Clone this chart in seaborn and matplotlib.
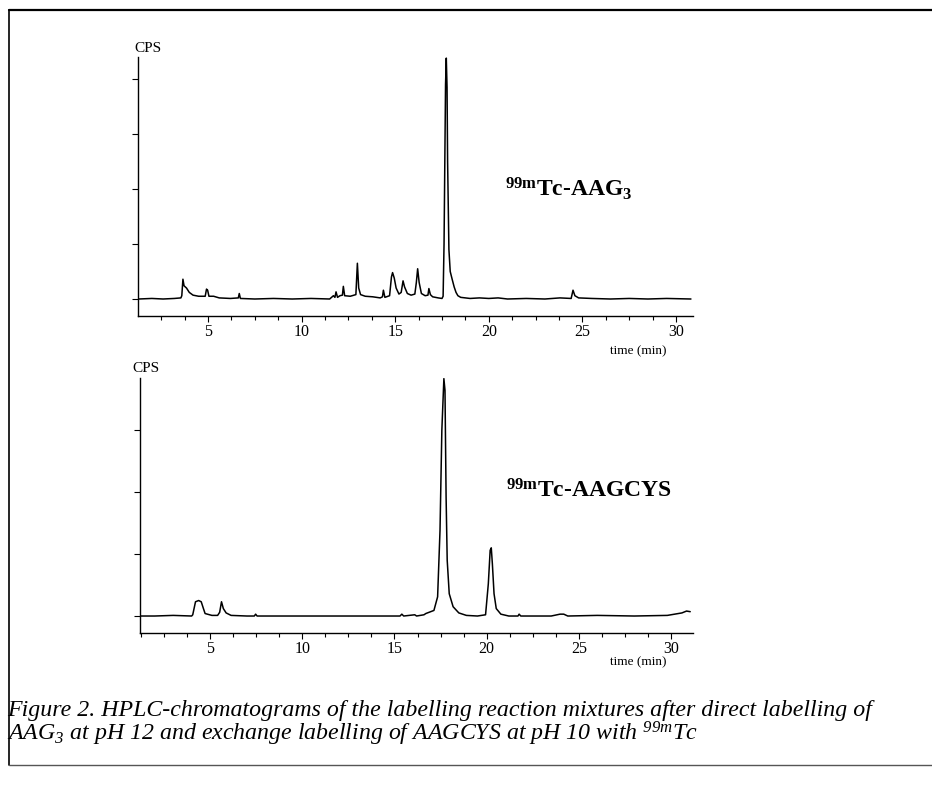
import matplotlib
matplotlib.use("Agg")
import matplotlib.pyplot as plt
from matplotlib.ticker import MultipleLocator, NullFormatter
from matplotlib.lines import Line2D
import seaborn as sns
import pandas as pd

# ---------------- data ----------------
# Upper chromatogram: 99mTc-AAG3 (time in min, CPS in relative units)
top_time = [1.3, 2.0, 2.6, 3.2, 3.55, 3.60, 3.66, 3.72, 3.85, 4.0, 4.2, 4.5, 4.85, 4.92, 4.98,
            5.05, 5.3, 5.6, 6.2, 6.62, 6.67, 6.73, 7.5, 8.5, 9.5, 10.5, 11.5, 11.7, 11.78, 11.84,
            11.92, 12.05, 12.18, 12.23, 12.3, 12.6, 12.9, 12.98, 13.05, 13.15, 13.4, 13.8, 14.2,
            14.32, 14.37, 14.45, 14.7, 14.8, 14.86, 14.95, 15.05, 15.2, 15.32, 15.42, 15.5, 15.65,
            15.85, 16.05, 16.13, 16.2, 16.28, 16.4, 16.6, 16.75, 16.8, 16.88, 17.0, 17.3, 17.5,
            17.56, 17.61, 17.69, 17.73, 17.77, 17.8, 17.87, 17.94, 18.05, 18.15, 18.25, 18.35,
            18.5, 19.0, 19.5, 20.0, 20.5, 21.0, 22.0, 23.0, 23.8, 24.4, 24.5, 24.6, 24.8, 25.5,
            26.5, 27.5, 28.5, 29.5, 30.8]
top_cps = [0.00, 0.01, 0.00, 0.01, 0.02, 0.06, 0.36, 0.24, 0.20, 0.12, 0.07, 0.05, 0.05, 0.18, 0.16,
           0.05, 0.05, 0.02, 0.01, 0.02, 0.10, 0.01, 0.00, 0.01, 0.00, 0.01, 0.00, 0.06, 0.03, 0.13,
           0.03, 0.06, 0.07, 0.23, 0.06, 0.05, 0.08, 0.65, 0.20, 0.08, 0.05, 0.04, 0.02,
           0.04, 0.16, 0.03, 0.06, 0.40, 0.48, 0.38, 0.20, 0.09, 0.12, 0.33, 0.22, 0.10,
           0.07, 0.09, 0.30, 0.55, 0.30, 0.10, 0.06, 0.07, 0.19, 0.08, 0.04, 0.02, 0.01,
           0.05, 1.00, 3.90, 4.38, 3.85, 2.50, 0.90, 0.50, 0.35, 0.22, 0.12, 0.06,
           0.03, 0.01, 0.02, 0.01, 0.02, 0.00, 0.01, 0.00, 0.02, 0.01, 0.16, 0.06, 0.02, 0.01,
           0.00, 0.01, 0.00, 0.01, 0.00]

# Lower chromatogram: 99mTc-AAGCYS
bot_time = [1.2, 2.0, 3.0, 4.0, 4.06, 4.21, 4.38, 4.52, 4.64, 4.73, 5.1, 5.41, 5.52, 5.62, 5.72,
            5.87, 6.14, 7.0, 7.4, 7.47, 7.55, 8.0, 10.0, 12.0, 14.0, 15.3, 15.4, 15.5, 16.1, 16.2,
            16.6, 16.7, 17.14, 17.34, 17.47, 17.57, 17.68, 17.74, 17.80, 17.86, 17.97, 18.18,
            18.49, 18.9, 19.5, 19.94, 20.09, 20.19, 20.25, 20.31, 20.40, 20.52, 20.77, 21.2,
            21.7, 21.76, 21.85, 22.0, 23.5, 23.98, 24.18, 24.4, 26.0, 28.0, 29.8, 30.59, 30.84,
            31.04]
bot_cps = [0.00, 0.00, 0.01, 0.00, 0.02, 0.23, 0.25, 0.23, 0.12, 0.04, 0.01, 0.01, 0.06, 0.23, 0.12,
           0.05, 0.01, 0.00, 0.00, 0.03, 0.00, 0.00, 0.00, 0.00, 0.00, 0.00, 0.03, 0.00, 0.02, 0.00,
           0.02, 0.04, 0.09, 0.31, 1.38, 3.00, 3.83, 3.64, 1.92, 0.90, 0.36, 0.15,
           0.05, 0.01, 0.00, 0.02, 0.52, 1.06, 1.10, 0.84, 0.36, 0.12, 0.03, 0.00,
           0.00, 0.03, 0.00, 0.00, 0.00, 0.03, 0.03, 0.00, 0.01, 0.00, 0.01, 0.05, 0.08,
           0.07]

x_ticks = [5, 10, 15, 20, 25, 30]
top_yticks = [0, 1, 2, 3, 4]
bot_yticks = [0, 1, 2, 3]
top_label = r"$^{99m}$Tc-AAG$_{3}$"
bot_label = r"$^{99m}$Tc-AAGCYS"
caption_1 = "Figure 2. HPLC-chromatograms of the labelling reaction mixtures after direct labelling of"
caption_2 = r"AAG$_{3}$ at pH 12 and exchange labelling of AAGCYS at pH 10 with $^{99m}$Tc"

# ---------------- styling ----------------
sns.set_style("ticks")
plt.rcParams["font.family"] = ["Liberation Serif", "DejaVu Serif"]
plt.rcParams["mathtext.default"] = "regular"
plt.rcParams["axes.linewidth"] = 1.0
for k in ["text.color", "axes.edgecolor", "axes.labelcolor", "xtick.color", "ytick.color"]:
    plt.rcParams[k] = "black"

W, H = 932, 789
fig = plt.figure(figsize=(W / 100, H / 100), dpi=100)


def fx(px):
    return px / W


def fy(py):
    return 1 - py / H


def make_axes(x0, x1, y_top, y_bottom):
    return fig.add_axes([fx(x0), fy(y_bottom), fx(x1) - fx(x0), (y_bottom - y_top) / H])


ax1 = make_axes(138, 693, 57, 316)
ax2 = make_axes(140, 693, 378, 633)

df_top = pd.DataFrame({"time": top_time, "cps": top_cps})
df_bot = pd.DataFrame({"time": bot_time, "cps": bot_cps})

sns.lineplot(data=df_top, x="time", y="cps", ax=ax1, color="black", linewidth=1.1,
             estimator=None, sort=False)
sns.lineplot(data=df_bot, x="time", y="cps", ax=ax2, color="black", linewidth=1.1,
             estimator=None, sort=False)

for ax, xl, yl, yt in [(ax1, (1.26, 30.91), (-0.309, 4.40), top_yticks),
                       (ax2, (1.20, 31.19), (-0.274, 3.84), bot_yticks)]:
    ax.set_xlim(*xl)
    ax.set_ylim(*yl)
    ax.set_xticks(x_ticks)
    ax.set_xticklabels([str(t) for t in x_ticks], fontsize=11.5)
    ax.xaxis.set_minor_locator(MultipleLocator(1.25))
    ax.set_yticks(yt)
    ax.yaxis.set_major_formatter(NullFormatter())
    ax.tick_params(axis="x", which="major", length=4, width=0.8, pad=2, direction="out")
    ax.tick_params(axis="x", which="minor", length=3, width=0.8, direction="out")
    ax.tick_params(axis="y", which="major", length=4, width=0.8, direction="out")
    ax.set_xlabel("")
    ax.set_ylabel("")
    for s in ["top", "right"]:
        ax.spines[s].set_visible(False)
    ax.patch.set_alpha(0)

# axis titles
fig.text(fx(148), fy(48), "CPS", fontsize=11, ha="center", va="center")
fig.text(fx(146), fy(368), "CPS", fontsize=11, ha="center", va="center")
fig.text(fx(638), fy(351), "time (min)", fontsize=9.5, ha="center", va="center")
fig.text(fx(638), fy(662), "time (min)", fontsize=9.5, ha="center", va="center")

# peak labels
fig.text(fx(505), fy(196), top_label, fontsize=17, fontweight="bold", ha="left", va="baseline")
fig.text(fx(506), fy(498), bot_label, fontsize=17, fontweight="bold", ha="left", va="baseline")

# caption
fig.text(fx(7), fy(716), caption_1, fontsize=17.2, style="italic", ha="left", va="baseline")
fig.text(fx(7), fy(741), caption_2, fontsize=17.2, style="italic", ha="left", va="baseline")

# frame around the figure
fig.add_artist(Line2D([fx(9), fx(932)], [fy(10), fy(10)], color="black", linewidth=1.6))
fig.add_artist(Line2D([fx(9), fx(9)], [fy(10), fy(765)], color="black", linewidth=1.2))
fig.add_artist(Line2D([fx(9), fx(932)], [fy(765), fy(765)], color="#555555", linewidth=1.0))

fig.savefig("out.png", dpi=100)
